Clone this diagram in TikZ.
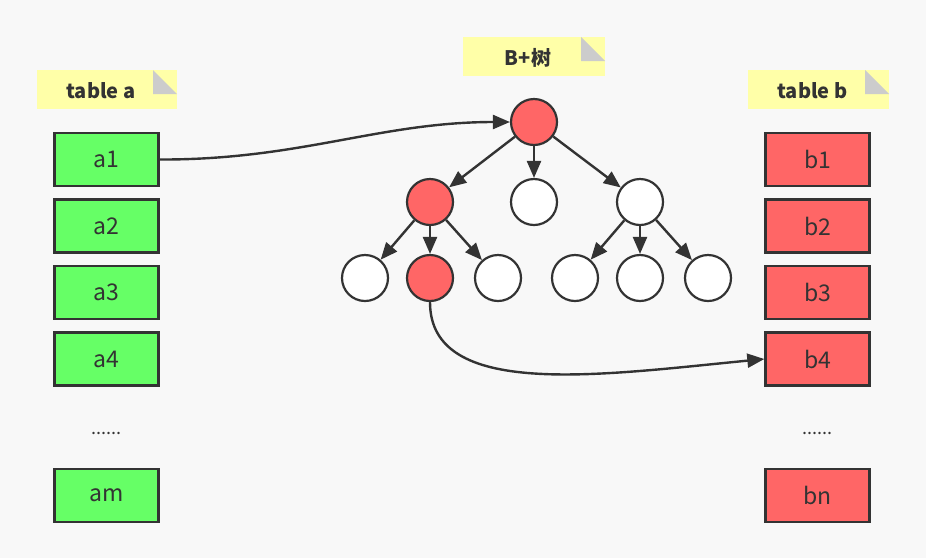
\documentclass[tikz,border=0pt]{standalone}
\usepackage{fontspec}
\setmainfont{Noto Sans CJK SC}
\usetikzlibrary{arrows.meta}
\definecolor{ink}{HTML}{333333}
\definecolor{gfill}{HTML}{66FF66}
\definecolor{rfill}{HTML}{FF6666}
\definecolor{notey}{HTML}{FFFFA8}
\definecolor{fold}{HTML}{CCCCCC}
\begin{document}
\begin{tikzpicture}[x=1pt,y=-1pt,
  cell/.style={draw=ink,line width=2.4pt,minimum width=104pt,minimum height=53pt,inner sep=0pt,font=\fontsize{23}{26}\selectfont,text=ink},
  gcell/.style={cell,fill=gfill},
  rcell/.style={cell,fill=rfill},
  bnode/.style={circle,draw=ink,line width=2.2pt,minimum size=46pt,inner sep=0pt,fill=white},
  rnode/.style={bnode,fill=rfill},
  edge/.style={draw=ink,line width=2.4pt,-{Triangle[length=17pt,width=14pt]}},
  lbl/.style={font=\bfseries\fontsize{20}{24}\selectfont,text=ink}]
\fill[fill={rgb,255:red,248;green,248;blue,248}] (0,0) rectangle (926,558);
\useasboundingbox (0,0) rectangle (926,558);
% notes
\foreach \x/\y/\w/\t/\n in {37/70/140/table a/na,463/37/142/B+树/nb,748/70/141/table b/nc}{
  \fill[notey] (\x,\y) rectangle ({\x+\w},{\y+39});
  \fill[fold] ({\x+\w-24},\y) -- ({\x+\w},{\y+24}) -- ({\x+\w-24},{\y+24}) -- cycle;
  \node[lbl] (\n) at ({\x+\w/2-6},{\y+21}) {\t};
}
% tables
\node[gcell] (a1) at (106.5,159.5) {a1};
\node[gcell] (a2) at (106.5,226) {a2};
\node[gcell] (a3) at (106.5,292.5) {a3};
\node[gcell] (a4) at (106.5,359) {a4};
\node[text=ink,font=\fontsize{18}{20}\selectfont] (ad) at (106.5,433) {......};
\node[gcell] (am) at (106.5,495.5) {am};
\node[rcell] (b1) at (817.5,159.5) {b1};
\node[rcell] (b2) at (817.5,226) {b2};
\node[rcell] (b3) at (817.5,292.5) {b3};
\node[rcell] (b4) at (817.5,359) {b4};
\node[text=ink,font=\fontsize{18}{20}\selectfont] (bd) at (817.5,433) {......};
\node[rcell] (bn) at (817.5,495.5) {bn};
% tree
\node[rnode] (r) at (534,122) {};
\node[rnode] (l) at (430,202) {};
\node[bnode] (m) at (534,202) {};
\node[bnode] (rr) at (640,202) {};
\node[bnode] (l1) at (365,278) {};
\node[rnode] (l2) at (430,278) {};
\node[bnode] (l3) at (498,278) {};
\node[bnode] (r1) at (575,278) {};
\node[bnode] (r2) at (640,278) {};
\node[bnode] (r3) at (708,278) {};
\foreach \a/\b in {r/l,r/m,r/rr,l/l1,l/l2,l/l3,rr/r1,rr/r2,rr/r3}
  \draw[edge] (\a) -- (\b);
\draw[edge] (a1.east) .. controls (300,160) and (380,122) .. (r.west);
\draw[edge] (l2.south) .. controls (430,400) and (600,375) .. (b4.west);
\end{tikzpicture}
\end{document}
